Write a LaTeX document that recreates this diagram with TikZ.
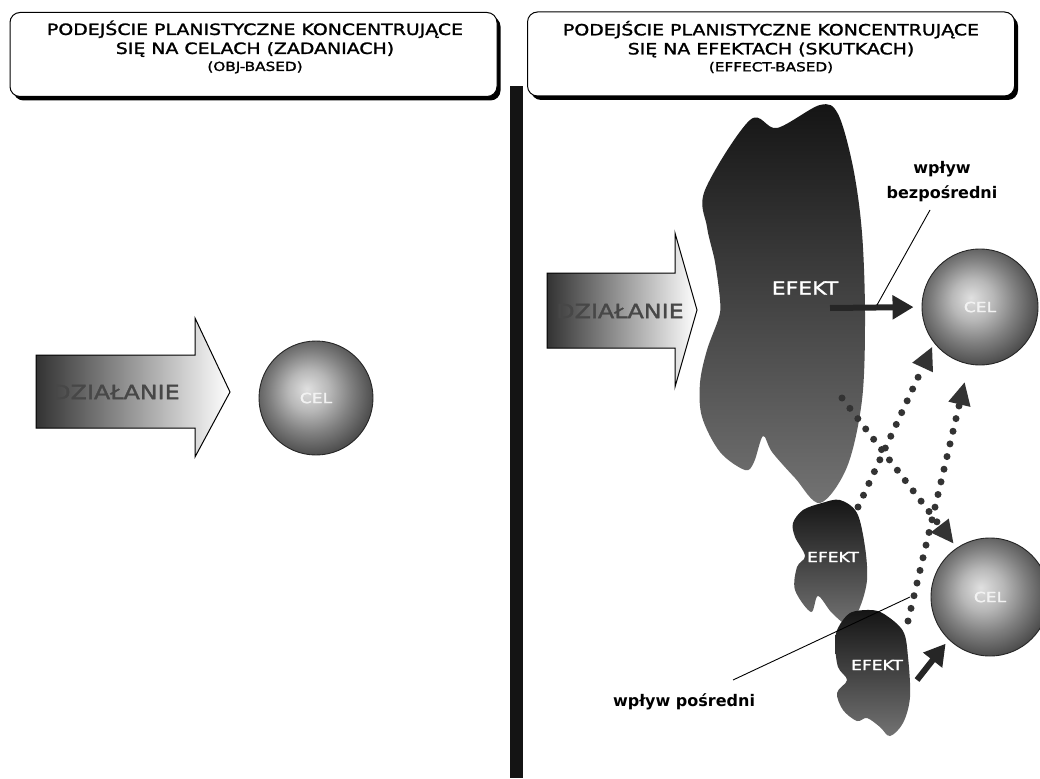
\documentclass[tikz,border=0pt]{standalone}
\usepackage{fontspec}
\setmainfont{DejaVu Sans}[FakeStretch=1.22, FakeBold=1.6]
\newfontfamily\labfont{DejaVu Sans}
\usetikzlibrary{arrows.meta,calc,shadows}
\pgfdeclareradialshading{celshade}{\pgfpoint{-4bp}{4bp}}{color(0bp)=(black!12); color(9bp)=(black!28); color(18bp)=(black!50); color(27bp)=(black!70); color(50bp)=(black!70)}
\begin{document}
\begin{tikzpicture}[x=1pt,y=-1pt,
  hdrbox/.style={draw=black, line width=1pt, fill=white, rounded corners=10pt,
    minimum width=487pt, minimum height=84pt, inner sep=0pt,
    drop shadow={shadow xshift=3.5pt, shadow yshift=-4pt, fill=black, opacity=1}},
  hdrtext/.style={align=center, font=\fontsize{15.5}{19}\selectfont},
  cel/.style={circle, draw=black!85, line width=0.9pt, minimum size=#1, inner sep=0pt,
    shading=celshade, text=white!90!gray, font=\fontsize{14}{14}\selectfont},
  actbox/.style={draw=black, line width=1pt, left color=black!80, middle color=white, right color=white},
  actlabel/.style={text=black!72, font=\fontsize{19.5}{20}\selectfont},
  blob/.style={top color=black!92, bottom color=black!55},
  efekt/.style={text=white, font=\fontsize{#1}{#1}\selectfont},
  direct/.style={line width=6pt, black!85, -{Triangle[length=21pt,width=23pt]}},
  dotarrow/.style={line width=7pt, black!80, line cap=round, dash pattern=on 0pt off 13pt,
    -{Triangle[length=23pt,width=21pt]}},
  leader/.style={line width=0.9pt, black},
  lab/.style={align=center, font=\labfont\bfseries\fontsize{16}{25}\selectfont}
]
\useasboundingbox (0,0) rectangle (1040,778);
\fill[white] (0,0) rectangle (1040,778);

% headers
\node[hdrbox] (h1) at (253.5,54.5) {};
\node[hdrtext] (h1t) at (255,47) {PODEJŚCIE PLANISTYCZNE KONCENTRUJĄCE\\SIĘ NA CELACH (ZADANIACH)\\[-2pt]{\fontsize{12.5}{15}\selectfont (OBJ-BASED)}};
\node[hdrbox] (h2) at (771,54) {};
\node[hdrtext] (h2t) at (771,47) {PODEJŚCIE PLANISTYCZNE KONCENTRUJĄCE\\SIĘ NA EFEKTACH (SKUTKACH)\\[-2pt]{\fontsize{12.5}{15}\selectfont (EFFECT-BASED)}};

% separator
\fill[black!92] (510,86) rectangle (523,778);

% left panel
\path[actbox] (36,355) -- (195,355) -- (195,318) -- (230,392) -- (195,457) -- (195,428) -- (36,428) -- cycle;
\node[actlabel] (act1) at (116,392) {DZIAŁANIE};
\node[cel=114pt] (cel1) at (316,398) {CEL};

% right panel: action arrow
\path[actbox] (547,273) -- (675,273) -- (675,233) -- (697,310) -- (675,387) -- (675,348) -- (547,348) -- cycle;
\node[actlabel] (act2) at (620,311) {DZIAŁANIE};

% big effect blob
\path[blob] plot[smooth cycle, tension=0.55] coordinates {
 (705,190) (750,120) (777,128) (820,105) (838,114) (853,167) (862,233) (865,317)
 (862,400) (847,467) (820,503) (795,478) (772,452) (763,436) (754,462) (745,470)
 (720,452) (702,417) (700,383) (707,350) (719,317) (720,300) (715,262) (707,227)};
\node[efekt=18] (ef1) at (805,288) {EFEKT};

% small blob 1
\path[blob] plot[smooth cycle, tension=0.55] coordinates {
 (803,510) (822,503) (840,500) (857,513) (865,547) (867,580) (860,607) (849,625)
 (832,613) (818,596) (811,612) (795,590) (797,567) (805,556) (795,537) (793,523)};
\node[efekt=14] (ef2) at (833,557) {EFEKT};

% small blob 2
\path[blob] plot[smooth cycle, tension=0.55] coordinates {
 (838,628) (850,613) (870,610) (884,614) (903,631) (908,657) (910,697) (903,723)
 (890,736) (880,727) (867,718) (857,721) (843,710) (837,693) (847,680) (838,667) (835,643)};
\node[efekt=14] (ef3) at (877,665) {EFEKT};

% goals
\node[cel=116pt] (cel2) at (980,307) {CEL};
\node[cel=118pt] (cel3) at (990,597) {CEL};

% connector start points
\coordinate (d1) at (830,308);
\coordinate (p1) at (842,398);
\coordinate (p2) at (858,507);
\coordinate (p3) at (908,621);
\coordinate (p4) at (917,680);

% direct influence
\draw[direct, shorten >=8pt] (d1) -- (cel2.west);
% indirect (dotted)
\draw[dotarrow, shorten >=5pt] (p1) -- (cel3.124);
\draw[dotarrow, shorten >=4pt] (p2) -- (cel2.218);
\draw[dotarrow, shorten >=18pt] (p3) -- (cel2.259);
\draw[direct, line width=6pt, shorten >=5pt] (p4) -- (cel3.226);

% labels
\node[lab] (lb1) at (942,182) {wpływ\\bezpośredni};
\coordinate (lb1end) at (877,305);
\draw[leader] (930,210) -- (lb1end);
\node[lab] (lb2) at (684,702) {wpływ pośredni};
\coordinate (lb2end) at (910,597);
\draw[leader] (733,680) -- (lb2end);
\end{tikzpicture}
\end{document}
